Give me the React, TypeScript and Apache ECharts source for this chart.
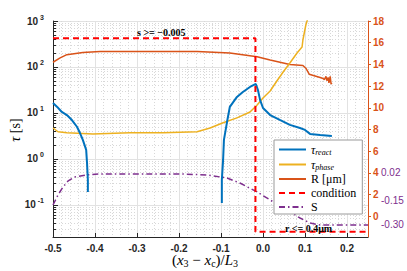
import React, { useEffect, useRef } from 'react';
import * as echarts from 'echarts';

// tau_react (two branches)
const reactX1 = [-0.5, -0.49, -0.479, -0.467, -0.455, -0.443, -0.436, -0.429, -0.421, -0.419, -0.417, -0.417];
const reactY1 = [16.5, 13.5, 10.5, 9.0, 7.0, 5.0, 3.7, 2.6, 1.57, 0.82, 0.35, 0.19];
const reactX2 = [-0.098, -0.098, -0.095, -0.093, -0.086, -0.079, -0.062, -0.048, -0.031, -0.017, -0.012, -0.007, 0.0, 0.017, 0.04, 0.064, 0.088, 0.1, 0.112, 0.136, 0.164];
const reactY2 = [0.11, 0.35, 0.95, 2.6, 6.1, 13.5, 22.3, 28.6, 36.7, 42.7, 31.6, 19.2, 12.8, 9.0, 7.05, 5.5, 4.7, 4.27, 3.5, 3.3, 3.16];

// tau_phase
const phaseX = [-0.5, -0.488, -0.467, -0.405, -0.317, -0.238, -0.157, -0.126, -0.095, -0.062, -0.031, -0.014, 0.0, 0.017, 0.033, 0.048, 0.064, 0.081, 0.093, 0.095, 0.102, 0.107];
const phaseY = [4.7, 3.9, 3.7, 3.5, 3.7, 3.7, 3.9, 4.7, 6.1, 7.8, 10.5, 14.9, 21.2, 30, 49.6, 77.8, 122, 201, 272, 386, 818, 1161];

// R [um]
const radX = [-0.5, -0.483, -0.467, -0.429, -0.388, -0.317, -0.157, -0.079, -0.014, 0.017, 0.064, 0.095, 0.102, 0.11, 0.136, 0.143, 0.146, 0.15, 0.152, 0.155, 0.157, 0.16, 0.162, 0.164];
const radY = [14.2, 14.6, 14.9, 15.1, 15.2, 15.2, 15.2, 15.05, 14.7, 14.4, 14.0, 13.9, 13.65, 13.1, 12.8, 12.7, 12.6, 12.9, 12.5, 12.8, 12.3, 12.9, 12.2, 12.3];

// condition
const condX = [-0.5, -0.018, -0.018, 0.25];
const condY = [420, 420, 0.026, 0.026];

// S
const sX = [-0.5, -0.488, -0.476, -0.464, -0.448, -0.419, -0.388, -0.198, -0.133, -0.086, -0.055, -0.014, 0.017, 0.057, 0.088, 0.112, 0.136, 0.25];
const sY = [-0.177, -0.115, -0.066, -0.029, -0.005, 0.008, 0.014, 0.014, 0.008, -0.011, -0.042, -0.097, -0.146, -0.208, -0.257, -0.288, -0.3, -0.3];

// ticks
const logMajor = [0.1, 1, 10, 100, 1000];
const logMinor = [0.02, 0.03, 0.04, 0.05, 0.06, 0.07, 0.08, 0.09, 0.2, 0.3, 0.4, 0.5, 0.6, 0.7, 0.8, 0.9, 2, 3, 4, 5, 6, 7, 8, 9, 20, 30, 40, 50, 60, 70, 80, 90, 200, 300, 400, 500, 600, 700, 800, 900];
const rTicks = [0, 2, 4, 6, 8, 10, 12, 14, 16, 18];
const sTicks = [0.02, -0.15, -0.3];

const zip = (xs: number[], ys: number[]) => xs.map((x, i) => [x, ys[i]]);

const BLUE = '#0072BD';
const YELLOW = '#EDB120';
const ORANGE = '#D95319';
const RED = '#FF0000';
const PURPLE = '#7E2F8E';
const AX = '#262626';
const SANS = 'Liberation Sans, Arial, sans-serif';
const SERIF = 'Liberation Serif, Times New Roman, serif';

const legendNames: Record<string, string> = {
  'τ_react': '{i|τ}{sub|react}',
  'τ_phase': '{i|τ}{sub|phase}',
  'R [μm]': '{n|R [μm]}',
  'condition': '{n|condition}',
  'S': '{n|S}',
};

export default function App() {
  const ref = useRef<HTMLDivElement>(null);
  useEffect(() => {
    const chart = echarts.init(ref.current!, null, { renderer: 'svg' });
    const option: any = {
      animation: false,
      grid: { left: 53, right: 39, top: 21, bottom: 34, containLabel: false },
      xAxis: {
        type: 'value',
        min: -0.5,
        max: 0.25,
        interval: 0.1,
        axisLine: { show: true, onZero: false, lineStyle: { color: AX, width: 1 } },
        axisTick: { show: true, inside: true, length: 4, lineStyle: { color: AX } },
        minorTick: { show: false, splitNumber: 5 },
        axisLabel: {
          color: AX, fontSize: 10, fontWeight: 'bold', fontFamily: SANS, margin: 6,
          showMaxLabel: false,
          formatter: (v: number) => v.toFixed(1),
        },
        splitLine: { show: true, lineStyle: { color: '#e2e2e2', width: 1 } },
        minorSplitLine: { show: true, lineStyle: { color: '#d8d8d8', width: 1, type: [1, 2] } },
      },
      yAxis: [
        {
          type: 'log',
          logBase: 10,
          min: 0.02,
          max: 1000,
          position: 'left',
          axisLine: { show: true, onZero: false, lineStyle: { color: AX, width: 1 } },
          axisTick: { show: true, inside: true, length: 5, customValues: logMajor, lineStyle: { color: AX } },
          axisLabel: {
            customValues: logMajor,
            margin: 9,
            color: AX,
            fontFamily: SANS,
            formatter: (v: number) => `{b|10}{e|${Math.round(Math.log10(v))}}`,
            rich: {
              b: { fontSize: 10, fontWeight: 'bold', fontFamily: SANS, color: AX },
              e: { fontSize: 7, fontWeight: 'bold', fontFamily: SANS, color: AX, padding: [0, 0, 8, 2] },
            },
          },
          splitLine: { show: true, lineStyle: { color: '#e2e2e2', width: 1 } },
        },
        {
          type: 'log',
          logBase: 10,
          min: 0.02,
          max: 1000,
          position: 'left',
          axisLine: { show: false, onZero: false },
          axisLabel: { show: false },
          axisTick: { show: true, inside: true, length: 3, customValues: logMinor, lineStyle: { color: AX } },
          splitLine: { show: true, lineStyle: { color: '#d8d8d8', width: 1, type: [1, 2] } },
        },
        {
          type: 'value',
          min: -1.9,
          max: 18,
          position: 'right',
          axisLine: { show: true, onZero: false, lineStyle: { color: ORANGE, width: 1 } },
          axisTick: { show: true, inside: false, length: 3, customValues: rTicks, lineStyle: { color: ORANGE } },
          axisLabel: { customValues: rTicks, color: ORANGE, fontSize: 10, fontFamily: SANS, fontWeight: 'bold', margin: 5 },
          splitLine: { show: false },
        },
        {
          type: 'value',
          min: -0.374,
          max: 0.955,
          position: 'right',
          offset: 0,
          axisLine: { show: false, onZero: false },
          axisTick: { show: false, customValues: sTicks },
          axisLabel: {
            customValues: sTicks, color: PURPLE, fontSize: 10, fontFamily: SANS, margin: 13,
            formatter: (v: number) => v.toFixed(2),
          },
          splitLine: { show: false },
        },
      ],
      legend: {
        show: true,
        orient: 'vertical',
        left: 274,
        top: 140,
        padding: [3, 6, 1, 4],
        itemWidth: 27,
        itemHeight: 10,
        itemGap: 2,
        backgroundColor: '#ffffff',
        borderColor: '#9a9a9a',
        borderWidth: 1,
        borderRadius: 0,
        itemStyle: { color: 'transparent', borderColor: 'transparent', borderWidth: 0, opacity: 0 },
        data: ['τ_react', 'τ_phase', 'R [μm]', 'condition', 'S'],
        formatter: (name: string) => legendNames[name] || name,
        textStyle: {
          fontFamily: SERIF,
          fontSize: 12,
          color: '#000',
          lineHeight: 12,
          rich: {
            i: { fontFamily: SERIF, fontSize: 12, fontStyle: 'italic', color: '#000', lineHeight: 12 },
            sub: { fontFamily: SERIF, fontSize: 8, fontStyle: 'italic', color: '#000', padding: [5, 0, 0, 0], lineHeight: 12 },
            n: { fontFamily: SERIF, fontSize: 12, color: '#000', lineHeight: 12 },
          },
        },
      },
      graphic: [
        {
          type: 'text', x: 137, y: 32, silent: true,
          style: { text: 's >= −0.005', fontFamily: SERIF, fontWeight: 'bold', fontSize: 10, fill: '#000', align: 'left', verticalAlign: 'middle' },
          z: 100,
        },
        {
          type: 'text', x: 285, y: 228, silent: true,
          style: { text: 'r <= 0.4μm', fontFamily: SERIF, fontWeight: 'bold', fontSize: 10, fill: '#000', align: 'left', verticalAlign: 'middle' },
          z: 100,
        },
        {
          type: 'text', x: 15, y: 130, rotation: Math.PI / 2, silent: true,
          style: {
            text: '{i|τ}{n| [s]}', align: 'center', verticalAlign: 'middle',
            rich: {
              i: { fontFamily: SERIF, fontSize: 14, fontStyle: 'italic', fill: '#000' },
              n: { fontFamily: SERIF, fontSize: 14, fill: '#000' },
            },
          },
        },
        {
          type: 'text', x: 205, y: 260, silent: true,
          style: {
            text: '{n|(}{i|x}{s|3}{n| − }{i|x}{s|c}{n|)/}{i|L}{s|3}', align: 'center', verticalAlign: 'middle',
            rich: {
              n: { fontFamily: SERIF, fontSize: 15, fill: '#000' },
              i: { fontFamily: SERIF, fontSize: 15, fontStyle: 'italic', fill: '#000' },
              s: { fontFamily: SERIF, fontSize: 10, fill: '#000', padding: [6, 0, 0, 0] },
            },
          },
        },
      ],
      series: [
        {
          name: 'τ_react', type: 'line', yAxisIndex: 0, symbol: 'none', showSymbol: false,
          data: zip(reactX1, reactY1), lineStyle: { color: BLUE, width: 2 }, itemStyle: { color: BLUE }, z: 5,
        },
        {
          name: 'τ_phase', type: 'line', yAxisIndex: 0, symbol: 'none', showSymbol: false,
          data: zip(phaseX, phaseY), lineStyle: { color: YELLOW, width: 1.5 }, itemStyle: { color: YELLOW }, z: 4,
        },
        {
          name: 'R [μm]', type: 'line', yAxisIndex: 2, symbol: 'none', showSymbol: false,
          data: zip(radX, radY), lineStyle: { color: ORANGE, width: 1.5 }, itemStyle: { color: ORANGE }, z: 3,
        },
        {
          name: 'condition', type: 'line', yAxisIndex: 0, symbol: 'none', showSymbol: false,
          data: zip(condX, condY), lineStyle: { color: RED, width: 2, type: [6, 4] }, itemStyle: { color: RED }, z: 6,
        },
        {
          name: 'S', type: 'line', yAxisIndex: 3, symbol: 'none', showSymbol: false,
          data: zip(sX, sY), lineStyle: { color: PURPLE, width: 1.5, type: [6, 3, 1.5, 3] }, itemStyle: { color: PURPLE }, z: 3,
        },
        {
          name: 'τ_react', type: 'line', yAxisIndex: 0, symbol: 'none', showSymbol: false,
          data: zip(reactX2, reactY2), lineStyle: { color: BLUE, width: 2 }, itemStyle: { color: BLUE }, z: 5,
        },
      ],
    };
    chart.setOption(option);
    return () => chart.dispose();
  }, []);
  return <div ref={ref} style={{ position: 'absolute', left: 0, top: 0, width: 407, height: 271 }} />;
}
